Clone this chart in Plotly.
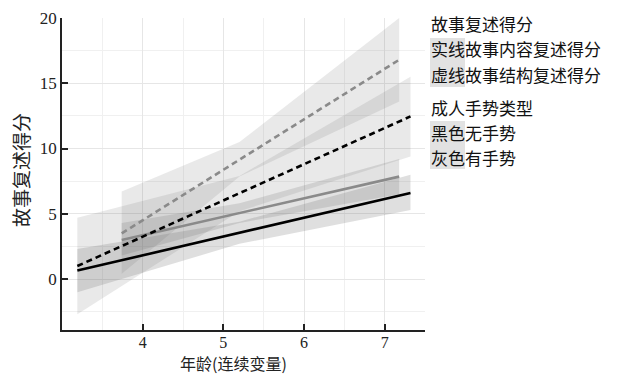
import plotly.graph_objects as go

# ---- data ----
# No gesture (black), content = solid, structure = dashed
nog_x = [3.19, 5.2, 7.32]
nog_content = [0.65, 3.55, 6.6]
nog_content_lo = [-1.0, 2.7, 5.3]
nog_content_hi = [2.3, 4.4, 8.0]
nog_struct = [1.0, 6.6, 12.46]
nog_struct_lo = [-2.7, 5.2, 9.4]
nog_struct_hi = [4.7, 7.9, 15.5]

# With gesture (gray)
g_x = [3.74, 5.2, 7.18]
g_content = [3.0, 5.05, 7.85]
g_content_lo = [1.8, 4.3, 6.5]
g_content_hi = [4.3, 5.8, 9.2]
g_struct = [3.5, 9.15, 16.8]
g_struct_lo = [0.4, 7.85, 13.6]
g_struct_hi = [6.7, 10.5, 20.0]

x_ticks = [4, 5, 6, 7]
y_ticks = [0, 5, 10, 15, 20]

legend_lines = ["故事复述得分", "实线故事内容复述得分", "虚线故事结构复述得分",
                "成人手势类型", "黑色无手势", "灰色有手势"]
x_title = "年龄(连续变量)"
y_title = "故事复述得分"

serif = "Liberation Serif, Times New Roman, serif"
cjk = "Noto Sans CJK SC"

fig = go.Figure()

def band(xs, lo, hi, color):
    fig.add_trace(go.Scatter(
        x=list(xs) + list(xs)[::-1], y=list(hi) + list(lo)[::-1],
        fill="toself", fillcolor=color, line=dict(width=0),
        mode="lines", hoverinfo="skip", showlegend=False))

band_c = "rgba(110,110,110,0.15)"
band(nog_x, nog_struct_lo, nog_struct_hi, band_c)
band(g_x, g_struct_lo, g_struct_hi, band_c)
band(nog_x, nog_content_lo, nog_content_hi, "rgba(110,110,110,0.22)")
band(g_x, g_content_lo, g_content_hi, "rgba(110,110,110,0.2)")

def line(xs, ys, color, dash):
    fig.add_trace(go.Scatter(x=xs, y=ys, mode="lines",
                             line=dict(color=color, width=2.6, dash=dash),
                             showlegend=False))

line(g_x, g_content, "#8a8a8a", "solid")
line(g_x, g_struct, "#8a8a8a", "6px,4px")
line(nog_x, nog_content, "#000000", "solid")
line(nog_x, nog_struct, "#000000", "6px,4px")

fig.update_xaxes(
    range=[3.0, 7.5], tickvals=x_ticks, ticktext=[str(v) for v in x_ticks],
    ticks="inside", ticklen=6, tickwidth=1.5, tickcolor="#222",
    showline=True, linecolor="#222", linewidth=1.5,
    showgrid=True, gridcolor="#e6e6e6", gridwidth=1,
    minor=dict(dtick=0.5, tick0=3.5, showgrid=True, gridcolor="#f0f0f0", ticks=""),
    zeroline=False, automargin=False, ticklabelstandoff=-3,
    tickfont=dict(family=serif, size=16, color="#222"),
)
fig.update_yaxes(
    range=[-3.9, 20], tickvals=y_ticks, ticktext=[str(v) for v in y_ticks],
    ticks="inside", ticklen=6, tickwidth=1.5, tickcolor="#222",
    showline=True, linecolor="#222", linewidth=1.5,
    showgrid=True, gridcolor="#e6e6e6", gridwidth=1,
    minor=dict(dtick=2.5, showgrid=True, gridcolor="#f0f0f0", ticks=""),
    zeroline=False, automargin=False,
    tickfont=dict(family=serif, size=17, color="#222"),
)

# legend-like annotations on the right
W, H = 363.0, 312.0
def px_x(px):
    return (px - 62) / W
def px_y(py):
    return (330 - py) / H

shapes = [
    dict(type="rect", xref="paper", yref="paper", x0=px_x(430), x1=px_x(465),
         y0=px_y(87), y1=px_y(38), fillcolor="#e2e2e2", line=dict(width=0), layer="below"),
    dict(type="rect", xref="paper", yref="paper", x0=px_x(430), x1=px_x(465),
         y0=px_y(169), y1=px_y(121), fillcolor="#e2e2e2", line=dict(width=0), layer="below"),
]
row_y = [23, 49, 74, 107, 132, 157]
annotations = []
for txt, py in zip(legend_lines, row_y):
    annotations.append(dict(text=txt, xref="paper", yref="paper", x=px_x(430), y=px_y(py),
                            xanchor="left", yanchor="middle", showarrow=False, borderpad=0,
                            font=dict(family=cjk, size=17, color="#111")))
annotations.append(dict(text=x_title, xref="paper", yref="paper", x=px_x(233), y=px_y(363),
                        xanchor="center", yanchor="middle", showarrow=False, borderpad=0,
                        font=dict(family=cjk, size=16, color="#222")))
annotations.append(dict(text=y_title, xref="paper", yref="paper", x=px_x(20), y=px_y(170),
                        xanchor="center", yanchor="middle", showarrow=False, textangle=-90,
                        borderpad=0, font=dict(family=cjk, size=19, color="#222")))

fig.update_layout(
    width=621, height=375,
    margin=dict(l=62, r=196, t=18, b=45),
    paper_bgcolor="white", plot_bgcolor="white",
    shapes=shapes, annotations=annotations,
    showlegend=False,
)

fig.write_html("out.html", config={"displayModeBar": False},
               post_script="document.body.style.margin='0px';")
